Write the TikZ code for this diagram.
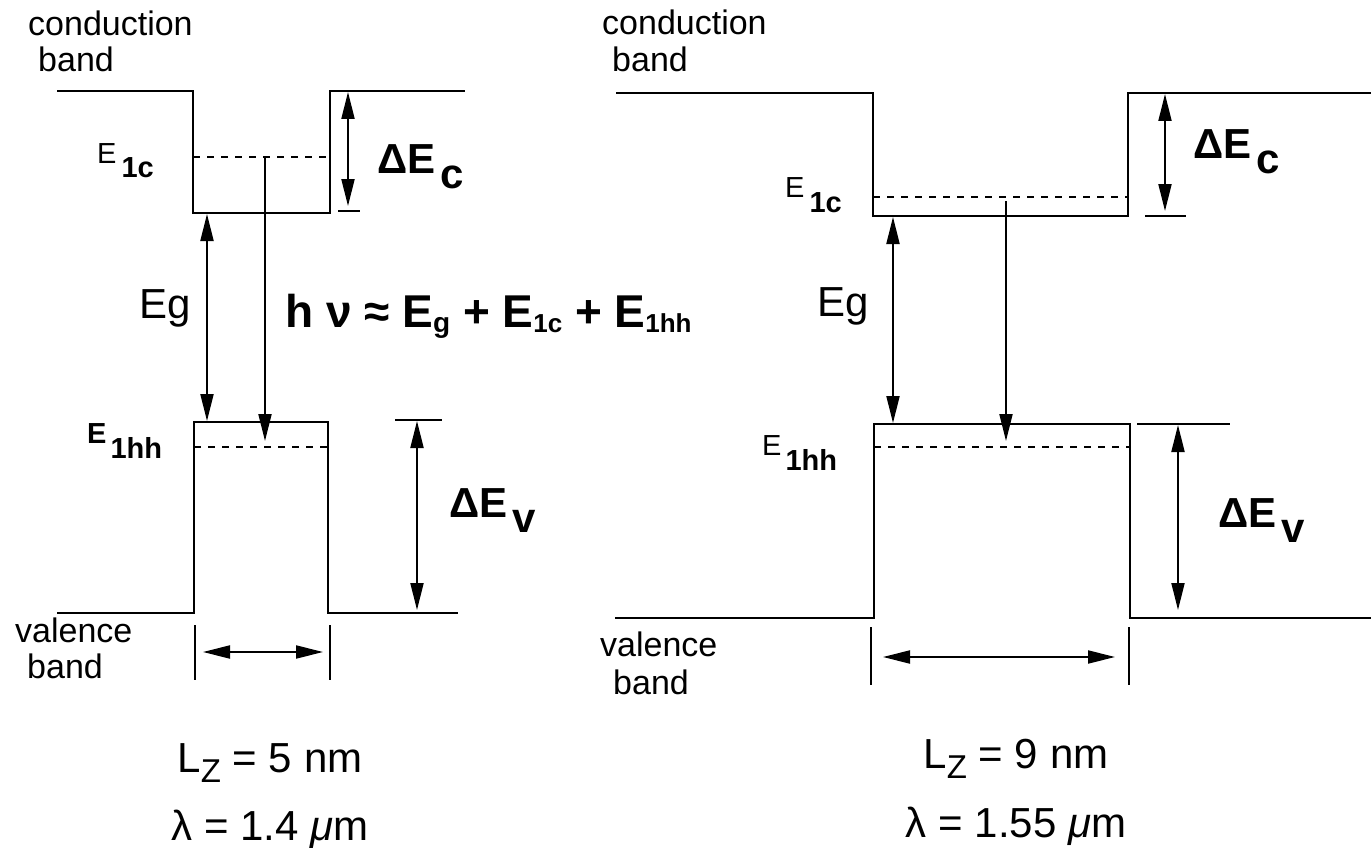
\documentclass[tikz,border=0pt]{standalone}
\usepackage{fontspec}
\setmainfont{Liberation Sans}
\usetikzlibrary{arrows.meta}
\newcommand\fsz[1]{\fontsize{#1}{#1}\selectfont}
\begin{document}
\begin{tikzpicture}[x=1pt,y=-1pt,
  band/.style={line width=2.3pt},
  lvl/.style={line width=2pt, dash pattern=on 7pt off 7pt},
  dim/.style={line width=2pt, {Triangle[length=27pt,width=13pt]}-{Triangle[length=27pt,width=13pt]}},
  ray/.style={line width=2pt, -{Triangle[length=27pt,width=13pt]}},
  tickline/.style={line width=2pt},
  txt/.style={inner sep=0pt, anchor=base west},
  ctxt/.style={inner sep=0pt, anchor=base}]
\useasboundingbox (0,0) rectangle (1371,848);

% ---------------- left diagram ----------------
\draw[band] (57,91) -- (193,91) -- (193,213) -- (330,213) -- (330,91) -- (465,91);
\draw[band] (57,613) -- (194,613) -- (194,422) -- (328,422) -- (328,613) -- (458,613);
\draw[lvl] (193,157) -- (330,157);
\draw[lvl] (194,447) -- (328,447);

\coordinate (LdcT) at (348,92);  \coordinate (LdcB) at (348,206);
\coordinate (LdcTa) at (338,211); \coordinate (LdcTb) at (360,211);
\draw[dim] (LdcT) -- (LdcB);
\draw[tickline] (LdcTa) -- (LdcTb);

\coordinate (LegT) at (207,214); \coordinate (LegB) at (207,421);
\draw[dim] (LegT) -- (LegB);

\coordinate (LhvT) at (265,157); \coordinate (LhvB) at (265,441);
\draw[ray] (LhvT) -- (LhvB);

\coordinate (LdvTa) at (395,420); \coordinate (LdvTb) at (442,420);
\coordinate (LdvT) at (417,421); \coordinate (LdvB) at (417,610);
\draw[tickline] (LdvTa) -- (LdvTb);
\draw[dim] (LdvT) -- (LdvB);

\coordinate (LlzA1) at (195,625); \coordinate (LlzA2) at (195,680);
\coordinate (LlzB1) at (330,625); \coordinate (LlzB2) at (330,680);
\coordinate (LlzL) at (203,652); \coordinate (LlzR) at (323,652);
\draw[tickline] (LlzA1) -- (LlzA2);
\draw[tickline] (LlzB1) -- (LlzB2);
\draw[dim] (LlzL) -- (LlzR);

\node[txt] (Lcond) at (28,36) {\fsz{34}conduction};
\node[txt] (Lband) at (38,72) {\fsz{34}band};
\node[txt] (Lval) at (15,642) {\fsz{34}valence};
\node[txt] (Lvband) at (27,678) {\fsz{34}band};
\node[txt] (LE1c) at (97,164) {\fsz{29}E\kern5pt\raisebox{-14pt}{\bfseries 1c}};
\node[txt] (LE1hh) at (87,443) {\fsz{29}\bfseries E\kern4pt\raisebox{-15pt}{1hh}};
\node[txt] (LdEc) at (377,173) {\fsz{42}\bfseries ΔE\kern5pt\raisebox{-15pt}{c}};
\node[txt] (LdEv) at (449,517) {\fsz{42}\bfseries ΔE\kern5pt\raisebox{-15pt}{v}};
\node[txt] (LEg) at (139,318) {\fsz{42}Eg};
\node[txt] (hv) at (285,327) {\fsz{46}\bfseries h ν ≈ E\raisebox{-5pt}{\fsz{28}g} + E\raisebox{-5pt}{\fsz{26}1c} + E\raisebox{-5pt}{\fsz{26}1hh}};
\node[ctxt] (LLz) at (270,772) {\fsz{42}L\raisebox{-10pt}{\fsz{33}Z} = 5 nm};
\node[ctxt] (Llam) at (270,840) {\fsz{42}λ = 1.4 {\itshape μ}m};

% ---------------- right diagram ----------------
\draw[band] (616,93) -- (873,93) -- (873,216) -- (1128,216) -- (1128,93) -- (1371,93);
\draw[band] (615,618) -- (874,618) -- (874,424) -- (1130,424) -- (1130,618) -- (1371,618);
\draw[lvl] (873,197) -- (1128,197);
\draw[lvl] (874,447) -- (1130,447);

\coordinate (RdcT) at (1165,94);  \coordinate (RdcB) at (1165,211);
\coordinate (RdcTa) at (1145,216); \coordinate (RdcTb) at (1186,216);
\draw[dim] (RdcT) -- (RdcB);
\draw[tickline] (RdcTa) -- (RdcTb);

\coordinate (RegT) at (893,217); \coordinate (RegB) at (893,423);
\draw[dim] (RegT) -- (RegB);

\coordinate (RhvT) at (1006,201); \coordinate (RhvB) at (1006,441);
\draw[ray] (RhvT) -- (RhvB);

\coordinate (RdvTa) at (1137,424); \coordinate (RdvTb) at (1230,424);
\coordinate (RdvT) at (1178,425); \coordinate (RdvB) at (1178,610);
\draw[tickline] (RdvTa) -- (RdvTb);
\draw[dim] (RdvT) -- (RdvB);

\coordinate (RlzA1) at (871,627); \coordinate (RlzA2) at (871,685);
\coordinate (RlzB1) at (1129,627); \coordinate (RlzB2) at (1129,685);
\coordinate (RlzL) at (883,657); \coordinate (RlzR) at (1115,657);
\draw[tickline] (RlzA1) -- (RlzA2);
\draw[tickline] (RlzB1) -- (RlzB2);
\draw[dim] (RlzL) -- (RlzR);

\node[txt] (Rcond) at (602,35) {\fsz{34}conduction};
\node[txt] (Rband) at (612,72) {\fsz{34}band};
\node[txt] (Rval) at (600,656) {\fsz{34}valence};
\node[txt] (Rvband) at (613,694) {\fsz{34}band};
\node[txt] (RE1c) at (785,197) {\fsz{29}E\kern5pt\raisebox{-15pt}{\bfseries 1c}};
\node[txt] (RE1hh) at (762,455) {\fsz{29}E\kern4pt\raisebox{-15pt}{\bfseries 1hh}};
\node[txt] (RdEc) at (1193,158) {\fsz{42}\bfseries ΔE\kern5pt\raisebox{-15pt}{c}};
\node[txt] (RdEv) at (1218,527) {\fsz{42}\bfseries ΔE\kern5pt\raisebox{-15pt}{v}};
\node[txt] (REg) at (817,316) {\fsz{42}Eg};
\node[ctxt] (RLz) at (1016,768) {\fsz{42}L\raisebox{-10pt}{\fsz{33}Z} = 9 nm};
\node[ctxt] (Rlam) at (1016,837) {\fsz{42}λ = 1.55 {\itshape μ}m};
\end{tikzpicture}
\end{document}
